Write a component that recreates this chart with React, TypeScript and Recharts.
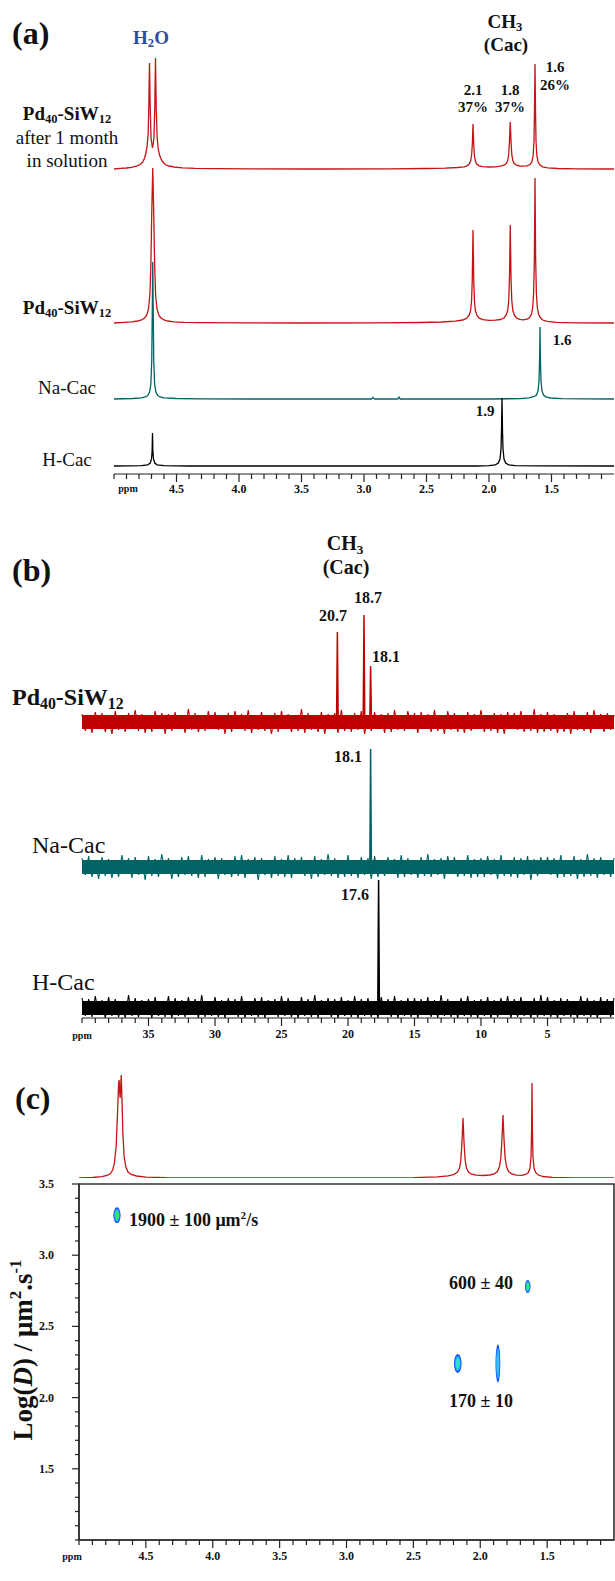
import React from 'react'
import {
  LineChart,
  Line,
  ComposedChart,
  Area,
  ScatterChart,
  Scatter,
  XAxis,
  YAxis,
  ReferenceArea,
} from 'recharts'

type Pt = [number, number]

// ---------- (a) 1H spectra, [ppm, intensity] ----------
const hAfterMonth: Pt[] = [
  [5.0, 0], [4.95, 0.6], [4.9, 1], [4.85, 1.8], [4.82, 2.8], [4.79, 4.5], [4.77, 7], [4.755, 11],
  [4.745, 16], [4.735, 23], [4.727, 35], [4.722, 60], [4.716, 106], [4.71, 60], [4.703, 30],
  [4.692, 21], [4.681, 30], [4.674, 60], [4.668, 111], [4.662, 60], [4.655, 32], [4.647, 21],
  [4.638, 15], [4.627, 11], [4.612, 7.5], [4.59, 4.5], [4.56, 3], [4.52, 2], [4.45, 1.2],
  [4.35, 0.6], [4.2, 0.3], [3.9, 0.1], [3.4, 0], [2.8, 0.2], [2.5, 0.5], [2.35, 0.9], [2.25, 1.5],
  [2.2, 2.2], [2.175, 3.2], [2.158, 5], [2.147, 8], [2.139, 14], [2.133, 26], [2.128, 45],
  [2.123, 26], [2.117, 14], [2.109, 8], [2.098, 5], [2.08, 3.2], [2.05, 2.4], [2.0, 2],
  [1.95, 2.2], [1.91, 2.8], [1.88, 3.8], [1.862, 5.5], [1.85, 8.5], [1.842, 15], [1.836, 28],
  [1.83, 47], [1.824, 28], [1.818, 15], [1.81, 8.5], [1.798, 5.5], [1.78, 3.8], [1.755, 3],
  [1.725, 2.8], [1.695, 3.2], [1.672, 4.5], [1.657, 7], [1.647, 13], [1.64, 28], [1.636, 60],
  [1.632, 105], [1.628, 60], [1.624, 28], [1.617, 13], [1.607, 7], [1.592, 4], [1.57, 2.2],
  [1.53, 1.2], [1.45, 0.5], [1.3, 0.2], [1.0, 0],
]

const hPdSiW: Pt[] = [
  [5.0, 0], [4.92, 0.6], [4.86, 1.2], [4.81, 2], [4.78, 3.2], [4.755, 5], [4.738, 8], [4.724, 14],
  [4.713, 28], [4.705, 58], [4.698, 110], [4.69, 155], [4.682, 110], [4.675, 58], [4.667, 28],
  [4.656, 14], [4.642, 8], [4.625, 5], [4.6, 3.2], [4.57, 2], [4.52, 1.2], [4.44, 0.6],
  [4.3, 0.3], [4.0, 0.1], [3.5, 0], [2.9, 0.2], [2.55, 0.5], [2.38, 1], [2.27, 1.8], [2.21, 3],
  [2.178, 4.8], [2.16, 7.5], [2.148, 12], [2.14, 21], [2.134, 42], [2.128, 93], [2.122, 42],
  [2.116, 21], [2.108, 12], [2.096, 7.5], [2.078, 4.8], [2.05, 3.3], [2.0, 2.6], [1.95, 2.8],
  [1.91, 3.5], [1.88, 5], [1.862, 8], [1.85, 13], [1.842, 23], [1.836, 46], [1.83, 98],
  [1.824, 46], [1.818, 23], [1.81, 13], [1.798, 8], [1.78, 5], [1.755, 3.6], [1.725, 3.2],
  [1.695, 3.8], [1.675, 5.5], [1.66, 9], [1.65, 16], [1.643, 30], [1.637, 65], [1.632, 145],
  [1.627, 65], [1.621, 30], [1.614, 16], [1.604, 9], [1.59, 5.5], [1.57, 3], [1.535, 1.6],
  [1.46, 0.7], [1.3, 0.2], [1.0, 0],
]

const hNaCac: Pt[] = [
  [5.0, 0], [4.85, 0.5], [4.78, 1.2], [4.75, 2], [4.73, 3.5], [4.715, 7], [4.705, 15], [4.698, 38],
  [4.694, 85], [4.69, 137], [4.686, 85], [4.682, 38], [4.675, 15], [4.665, 7], [4.65, 3.5],
  [4.63, 2], [4.6, 1.2], [4.5, 0.5], [4.3, 0.2], [3.9, 0], [2.94, 0], [2.928, 1.6], [2.915, 0],
  [2.73, 0], [2.72, 2], [2.71, 0], [2.0, 0], [1.75, 0.4], [1.68, 1.2], [1.64, 2.5], [1.62, 4],
  [1.608, 8], [1.6, 18], [1.595, 42], [1.592, 72], [1.589, 42], [1.584, 18], [1.576, 8],
  [1.564, 4], [1.545, 2.2], [1.51, 1], [1.42, 0.4], [1.25, 0.1], [1.0, 0],
]

const hHCac: Pt[] = [
  [5.0, 0], [4.78, 0.4], [4.73, 1.2], [4.71, 3], [4.7, 7], [4.695, 15], [4.692, 33], [4.689, 15],
  [4.684, 7], [4.674, 3], [4.655, 1.2], [4.6, 0.4], [4.4, 0], [2.1, 0], [2.0, 0.4], [1.95, 1.2],
  [1.925, 3], [1.912, 7], [1.904, 17], [1.9, 35], [1.896, 68], [1.892, 35], [1.888, 17],
  [1.88, 7], [1.867, 3], [1.842, 1.2], [1.79, 0.4], [1.6, 0.1], [1.0, 0],
]

// ---------- (b) 13C spectra: baseline noise sampled every 0.25 ppm from 40 to 0 ----------
const cRedNoise = [
  8, -9, 6, -11, 10, -7, 9, -10, 5, -12, 11, -8, 7, -10, 9, -6, 12, -9, 8, -11,
  6, -10, 11, -7, 9, -12, 8, -9, 10, -6, 7, -11, 13, -8, 9, -10, 6, -9, 11, -7,
  10, -8, 7, -12, 9, -10, 11, -6, 8, -9, 12, -11, 7, -8, 10, -9, 6, -12, 9, -10,
  11, -7, 8, -10, 6, -9, 13, -11, 9, -8, 7, -10, 10, -12, 8, -6, 9, -11, 12, -9,
  7, -10, 9, -8, 11, -12, 6, -9, 10, -7, 8, -11, 9, -10, 12, -8, 7, -9, 11, -6,
  9, -11, 10, -7, 8, -10, 12, -9, 6, -12, 11, -8, 9, -10, 7, -11, 10, -9, 8, -7,
  12, -10, 7, -9, 9, -11, 8, -12, 10, -6, 9, -8, 11, -10, 6, -9, 13, -11, 8, -10,
  10, -9, 8, -11, 7, -10, 9, -12, 11, -8, 6, -9, 10, -11, 12, -7, 8, -10, 9, -8,
  7,
]
const cTealNoise = [
  9, -8, 11, -10, 7, -12, 10, -9, 8, -11, 6, -10, 12, -7, 9, -11, 10, -8, 7, -13,
  11, -9, 8, -10, 13, -7, 9, -12, 6, -10, 10, -8, 11, -9, 7, -11, 12, -10, 8, -6,
  10, -12, 9, -8, 7, -10, 11, -9, 12, -11, 8, -7, 10, -13, 9, -8, 6, -11, 11, -9,
  8, -10, 12, -11, 9, -7, 10, -9, 7, -12, 11, -10, 8, -8, 13, -9, 9, -11, 6, -10,
  12, -9, 7, -11, 10, -8, 9, -12, 11, -10, 6, -9, 10, -7, 8, -11, 12, -10, 9, -8,
  7, -11, 10, -9, 13, -10, 8, -8, 9, -12, 11, -7, 10, -10, 7, -9, 12, -11, 8, -10,
  9, -10, 11, -8, 8, -12, 12, -9, 7, -10, 10, -11, 9, -8, 11, -13, 8, -9, 10, -7,
  10, -8, 9, -11, 12, -10, 7, -9, 11, -12, 8, -10, 13, -9, 9, -11, 10, -8, 7, -10,
  9,
]
const cBlackNoise = [
  10, -8, 9, -9, 12, -7, 8, -10, 11, -8, 9, -9, 7, -10, 13, -8, 10, -9, 8, -7,
  9, -10, 11, -8, 7, -9, 12, -10, 10, -8, 8, -9, 11, -7, 9, -10, 13, -9, 7, -8,
  11, -9, 8, -10, 10, -7, 9, -9, 12, -10, 7, -8, 10, -9, 11, -10, 8, -7, 9, -9,
  12, -8, 10, -9, 7, -10, 11, -8, 9, -9, 13, -10, 8, -7, 10, -9, 9, -10, 11, -8,
  8, -9, 12, -10, 9, -8, 10, -9, 7, -10, 11, -7, 9, -9, 12, -10, 8, -8, 10, -9,
  10, -10, 9, -7, 11, -9, 8, -10, 13, -8, 9, -9, 7, -10, 10, -8, 12, -9, 8, -10,
  9, -8, 11, -10, 8, -9, 10, -7, 12, -10, 9, -9, 11, -8, 7, -10, 10, -9, 13, -8,
  11, -9, 8, -10, 10, -8, 9, -9, 7, -10, 12, -8, 10, -9, 8, -10, 11, -7, 9, -9,
  10,
]

// CH3 lines of cacodylate, [ppm, height above the noise]
const cRedPeaks: Pt[] = [
  [21.2, 0], [20.86, 0], [20.8, 90], [20.74, 0], [18.9, 0], [18.86, 0], [18.8, 107], [18.74, 0],
  [18.36, 0], [18.3, 56], [18.24, 0], [18.0, 0],
]
const cTealPeaks: Pt[] = [[18.6, 0], [18.36, 0], [18.3, 118], [18.24, 0], [18.0, 0]]
const cBlackPeaks: Pt[] = [[18.0, 0], [17.76, 0], [17.7, 128], [17.64, 0], [17.4, 0]]

// ---------- (c) 1H trace above the DOSY map and the diffusion spots ----------
const dosyTrace: Pt[] = [
  [5.0, 0], [4.9, 0.5], [4.83, 1.3], [4.79, 2.5], [4.765, 4.5], [4.748, 8], [4.735, 15],
  [4.722, 32], [4.712, 65], [4.704, 95], [4.7, 98], [4.696, 85], [4.692, 80], [4.688, 92],
  [4.684, 103], [4.679, 80], [4.672, 45], [4.663, 22], [4.65, 11], [4.633, 6], [4.61, 3.5],
  [4.57, 2], [4.5, 0.9], [4.35, 0.3], [4.0, 0], [2.5, 0.4], [2.32, 1.2], [2.24, 2.2],
  [2.195, 3.6], [2.17, 6], [2.155, 10], [2.145, 18], [2.137, 35], [2.129, 60], [2.121, 35],
  [2.113, 18], [2.103, 10], [2.088, 6], [2.065, 3.8], [2.03, 2.8], [1.98, 2.5], [1.93, 3],
  [1.895, 4], [1.872, 6.5], [1.857, 11], [1.846, 20], [1.838, 38], [1.83, 63], [1.822, 38],
  [1.814, 20], [1.803, 11], [1.788, 6.5], [1.765, 4], [1.73, 2.8], [1.69, 2.7], [1.66, 3.5],
  [1.64, 5.5], [1.628, 10], [1.62, 22], [1.616, 48], [1.613, 95], [1.61, 48], [1.606, 22],
  [1.598, 10], [1.586, 5.5], [1.566, 3], [1.53, 1.5], [1.46, 0.6], [1.3, 0.2], [1.0, 0],
]

const dosyPpm = [4.716, 1.645, 2.168, 1.868]
const dosyLogD = [3.28, 2.78, 2.24, 2.24]

// tick labels
const hTickLabels = [4.5, 4.0, 3.5, 3.0, 2.5, 2.0, 1.5]
const cTickLabels = [35, 30, 25, 20, 15, 10, 5]
const logDTickLabels = [1.5, 2.0, 2.5, 3.0, 3.5]

// ---------- styling ----------
const SERIF = '"Liberation Serif", "Times New Roman", serif'
const RED = '#c41414'
const TEAL = '#006464'
const BAND_RED = '#c00000'
const AXIS = '#222'

// vertical stacking of the traces (px above each panel's axis)
const A_OFFSETS = [305, 151, 75, 8]
const B_OFFSETS = [296, 151, 10]
const NOISE_CORE = 7

// spot look in the DOSY map
const spotStyle = [
  { rx: 3.6, ry: 8, core: '#2ee86a' },
  { rx: 2.8, ry: 6.5, core: '#2ee86a' },
  { rx: 3.8, ry: 9.5, core: '#2fe0d0' },
  { rx: 2.4, ry: 19, core: '#49b4ff' },
]

const hTicks = Array.from({ length: 40 }, (_, i) => +(5 - i * 0.1).toFixed(1))
const cTicks = Array.from({ length: 40 }, (_, i) => 40 - i)
const logDTicks = Array.from({ length: 26 }, (_, i) => +(1 + i * 0.1).toFixed(1))
const noisePpm = cRedNoise.map((_, i) => 40 - i * 0.25)

const shift = (pts: Pt[], off: number) => pts.map(([ppm, v]) => ({ ppm, v: v + off }))
const noiseTrace = (vals: number[], off: number) => vals.map((v, i) => ({ ppm: noisePpm[i], v: v + off }))

const coreRows = [40, 0].map((ppm) => ({
  ppm,
  red: [B_OFFSETS[0] - NOISE_CORE, B_OFFSETS[0] + NOISE_CORE],
  teal: [B_OFFSETS[1] - NOISE_CORE, B_OFFSETS[1] + NOISE_CORE],
  black: [B_OFFSETS[2] - NOISE_CORE, B_OFFSETS[2] + NOISE_CORE],
}))

const dosySpots = dosyPpm.map((ppm, i) => ({ id: i, ppm, logD: dosyLogD[i] }))

function makeXTick(labels: number[], digits: number, labelDy: number) {
  return (props: any) => {
    const { x, y, payload } = props
    const v = payload.value
    const major = labels.some((l) => Math.abs(l - v) < 1e-6)
    return (
      <g>
        <line x1={x} x2={x} y1={y} y2={y + (major ? 8 : 5)} stroke={AXIS} strokeWidth={1.2} />
        {major && (
          <text
            x={x}
            y={y + labelDy}
            textAnchor="middle"
            fontWeight="bold"
            fontSize={12}
            fill="#111"
            style={{ fontFamily: SERIF }}
          >
            {v.toFixed(digits)}
          </text>
        )}
      </g>
    )
  }
}

const YTick = (props: any) => {
  const { x, y, payload } = props
  const v = payload.value
  const major = logDTickLabels.some((l) => Math.abs(l - v) < 1e-6)
  return (
    <g>
      <line x1={x} x2={x - (major ? 7 : 4)} y1={y} y2={y} stroke={AXIS} strokeWidth={1.2} />
      {major && (
        <text x={x - 25} y={y + 4} textAnchor="end" fontWeight="bold" fontSize={12} fill="#111" style={{ fontFamily: SERIF }}>
          {v.toFixed(1)}
        </text>
      )}
    </g>
  )
}

const SpotShape = (props: any) => {
  const { cx, cy, payload } = props
  const s = spotStyle[payload.id]
  return (
    <g>
      <ellipse cx={cx} cy={cy} rx={s.rx} ry={s.ry} fill="#1846ff" />
      <ellipse cx={cx} cy={cy} rx={s.rx * 0.78} ry={s.ry * 0.82} fill="#1ea8ff" />
      <ellipse cx={cx} cy={cy} rx={s.rx * 0.55} ry={s.ry * 0.6} fill={s.core} />
    </g>
  )
}

type TProps = {
  x: number
  y: number
  size?: number
  bold?: boolean
  color?: string
  anchor?: 'start' | 'middle' | 'end'
  children: React.ReactNode
}

function T({ x, y, size = 16, bold = false, color = '#111', anchor = 'middle', children }: TProps) {
  const tx = anchor === 'middle' ? '-50%' : anchor === 'end' ? '-100%' : '0'
  return (
    <div
      style={{
        position: 'absolute',
        left: x,
        top: y,
        transform: `translate(${tx}, -50%)`,
        fontFamily: SERIF,
        fontSize: size,
        fontWeight: bold ? 700 : 400,
        color,
        whiteSpace: 'nowrap',
        lineHeight: 1,
      }}
    >
      {children}
    </div>
  )
}

const subStyle: React.CSSProperties = { fontSize: '0.66em', verticalAlign: '-0.28em', lineHeight: 0 }
const supStyle: React.CSSProperties = { fontSize: '0.62em', verticalAlign: '0.6em', lineHeight: 0 }

const PdSiW = () => (
  <span>
    Pd<sub style={subStyle}>40</sub>-SiW<sub style={subStyle}>12</sub>
  </span>
)

export default function App() {
  return (
    <div
      style={{
        position: 'absolute',
        left: 0,
        top: 0,
        width: 615,
        height: 1581,
        background: '#fff',
        overflow: 'hidden',
      }}
    >
      {/* (a) 1H NMR */}
      <div style={{ position: 'absolute', left: 0, top: 0 }}>
        <LineChart width={615} height={504} margin={{ top: 40, right: 1, bottom: 0, left: 114 }}>
          <XAxis
            type="number"
            dataKey="ppm"
            domain={[1, 5]}
            reversed
            ticks={hTicks}
            interval={0}
            tickSize={0}
            tickMargin={0}
            tickLine={false}
            tick={makeXTick(hTickLabels, 1, 19)}
            axisLine={{ stroke: AXIS, strokeWidth: 1.2 }}
            height={30}
          />
          <YAxis hide type="number" domain={[0, 434]} />
          <Line data={shift(hAfterMonth, A_OFFSETS[0])} dataKey="v" type="linear" stroke={RED} strokeWidth={1.3} dot={false} isAnimationActive={false} />
          <Line data={shift(hPdSiW, A_OFFSETS[1])} dataKey="v" type="linear" stroke={RED} strokeWidth={1.3} dot={false} isAnimationActive={false} />
          <Line data={shift(hNaCac, A_OFFSETS[2])} dataKey="v" type="linear" stroke={TEAL} strokeWidth={1.3} dot={false} isAnimationActive={false} />
          <Line data={shift(hHCac, A_OFFSETS[3])} dataKey="v" type="linear" stroke="#000" strokeWidth={1.3} dot={false} isAnimationActive={false} />
        </LineChart>
      </div>

      {/* (b) 13C NMR */}
      <div style={{ position: 'absolute', left: 0, top: 560 }}>
        <ComposedChart width={615} height={488} data={coreRows} margin={{ top: 30, right: 1, bottom: 0, left: 82 }}>
          <XAxis
            type="number"
            dataKey="ppm"
            domain={[0, 40]}
            reversed
            ticks={cTicks}
            interval={0}
            tickSize={0}
            tickMargin={0}
            tickLine={false}
            tick={makeXTick(cTickLabels, 0, 20)}
            axisLine={{ stroke: AXIS, strokeWidth: 1.2 }}
            height={30}
          />
          <YAxis hide type="number" domain={[0, 428]} />
          <Area dataKey="red" type="linear" stroke="none" fill={BAND_RED} fillOpacity={1} dot={false} activeDot={false} isAnimationActive={false} />
          <Area dataKey="teal" type="linear" stroke="none" fill={TEAL} fillOpacity={1} dot={false} activeDot={false} isAnimationActive={false} />
          <Area dataKey="black" type="linear" stroke="none" fill="#000" fillOpacity={1} dot={false} activeDot={false} isAnimationActive={false} />
          <Line data={noiseTrace(cRedNoise, B_OFFSETS[0])} dataKey="v" type="linear" stroke={BAND_RED} strokeWidth={1.1} dot={false} isAnimationActive={false} />
          <Line data={noiseTrace(cTealNoise, B_OFFSETS[1])} dataKey="v" type="linear" stroke={TEAL} strokeWidth={1.1} dot={false} isAnimationActive={false} />
          <Line data={noiseTrace(cBlackNoise, B_OFFSETS[2])} dataKey="v" type="linear" stroke="#000" strokeWidth={1.1} dot={false} isAnimationActive={false} />
          <Line data={shift(cRedPeaks, B_OFFSETS[0])} dataKey="v" type="linear" stroke={BAND_RED} strokeWidth={1.5} dot={false} isAnimationActive={false} />
          <Line data={shift(cTealPeaks, B_OFFSETS[1])} dataKey="v" type="linear" stroke={TEAL} strokeWidth={1.5} dot={false} isAnimationActive={false} />
          <Line data={shift(cBlackPeaks, B_OFFSETS[2])} dataKey="v" type="linear" stroke="#000" strokeWidth={1.5} dot={false} isAnimationActive={false} />
        </ComposedChart>
      </div>

      {/* (c) 1H trace above DOSY */}
      <div style={{ position: 'absolute', left: 0, top: 1050 }}>
        <LineChart width={615} height={128} margin={{ top: 0, right: 1, bottom: 0, left: 79 }}>
          <XAxis hide type="number" dataKey="ppm" domain={[1, 5]} reversed />
          <YAxis hide type="number" domain={[0, 128]} />
          <Line data={shift(dosyTrace, 0)} dataKey="v" type="linear" stroke={RED} strokeWidth={1.3} dot={false} isAnimationActive={false} />
        </LineChart>
      </div>

      {/* (c) DOSY map */}
      <div style={{ position: 'absolute', left: 0, top: 1174 }}>
        <ScatterChart width={615} height={396} margin={{ top: 10, right: 1, bottom: 0, left: 39 }}>
          <XAxis
            type="number"
            dataKey="ppm"
            domain={[1, 5]}
            reversed
            ticks={hTicks}
            interval={0}
            tickSize={0}
            tickMargin={0}
            tickLine={false}
            tick={makeXTick(hTickLabels, 1, 20)}
            axisLine={{ stroke: '#333', strokeWidth: 1.6 }}
            height={30}
          />
          <YAxis
            type="number"
            dataKey="logD"
            domain={[1, 3.5]}
            ticks={logDTicks}
            interval={0}
            tickSize={0}
            tickMargin={0}
            tickLine={false}
            tick={YTick}
            axisLine={{ stroke: '#333', strokeWidth: 1.6 }}
            width={40}
          />
          <ReferenceArea x1={5} x2={1} y1={1} y2={3.5} stroke="#333" strokeWidth={1.6} fill="transparent" fillOpacity={0} />
          <Scatter data={dosySpots} dataKey="logD" shape={SpotShape} isAnimationActive={false} />
        </ScatterChart>
      </div>

      {/* (a) texts */}
      <T x={12} y={33} size={32} bold anchor="start">(a)</T>
      <T x={151} y={37} size={19} bold color="#2f4d9e">
        H<sub style={subStyle}>2</sub>O
      </T>
      <T x={505} y={21} size={19} bold>
        CH<sub style={subStyle}>3</sub>
      </T>
      <T x={506} y={44} size={19} bold>(Cac)</T>
      <T x={473} y={90} size={15} bold>2.1</T>
      <T x={473} y={107} size={15} bold>37%</T>
      <T x={510} y={90} size={15} bold>1.8</T>
      <T x={510} y={107} size={15} bold>37%</T>
      <T x={555} y={67} size={15} bold>1.6</T>
      <T x={555} y={85} size={15} bold>26%</T>
      <T x={67} y={113} size={19} bold><PdSiW /></T>
      <T x={67} y={137} size={19}>after 1 month</T>
      <T x={67} y={160} size={19}>in solution</T>
      <T x={67} y={307} size={19} bold><PdSiW /></T>
      <T x={67} y={387} size={19}>Na-Cac</T>
      <T x={67} y={459} size={19}>H-Cac</T>
      <T x={562} y={340} size={15} bold>1.6</T>
      <T x={485} y={411} size={15} bold>1.9</T>
      <T x={128} y={489} size={10} bold>ppm</T>

      {/* (b) texts */}
      <T x={12} y={570} size={32} bold anchor="start">(b)</T>
      <T x={345} y={543} size={20} bold>
        CH<sub style={subStyle}>3</sub>
      </T>
      <T x={346} y={567} size={20} bold>(Cac)</T>
      <T x={368} y={598} size={16} bold>18.7</T>
      <T x={333} y={616} size={16} bold>20.7</T>
      <T x={386} y={657} size={16} bold>18.1</T>
      <T x={348} y={757} size={16} bold>18.1</T>
      <T x={355} y={895} size={16} bold>17.6</T>
      <T x={12} y={697} size={24} bold anchor="start"><PdSiW /></T>
      <T x={32} y={845} size={24} anchor="start">Na-Cac</T>
      <T x={32} y={982} size={24} anchor="start">H-Cac</T>
      <T x={82} y={1036} size={10} bold>ppm</T>

      {/* (c) texts */}
      <T x={15} y={1098} size={32} bold anchor="start">(c)</T>
      <T x={129} y={1220} size={18} bold anchor="start">
        1900 ± 100 μm<sup style={supStyle}>2</sup>/s
      </T>
      <T x={481} y={1283} size={18} bold>600 ± 40</T>
      <T x={481} y={1401} size={18} bold>170 ± 10</T>
      <T x={72} y={1557} size={10} bold>ppm</T>
      <div
        style={{
          position: 'absolute',
          left: 23,
          top: 1350,
          transform: 'translate(-50%, -50%) rotate(-90deg)',
          fontFamily: SERIF,
          fontSize: 27,
          fontWeight: 700,
          whiteSpace: 'nowrap',
          lineHeight: 1,
          color: '#111',
        }}
      >
        Log(<i>D</i>) / μm<sup style={supStyle}>2</sup>.s<sup style={supStyle}>-1</sup>
      </div>
    </div>
  )
}
